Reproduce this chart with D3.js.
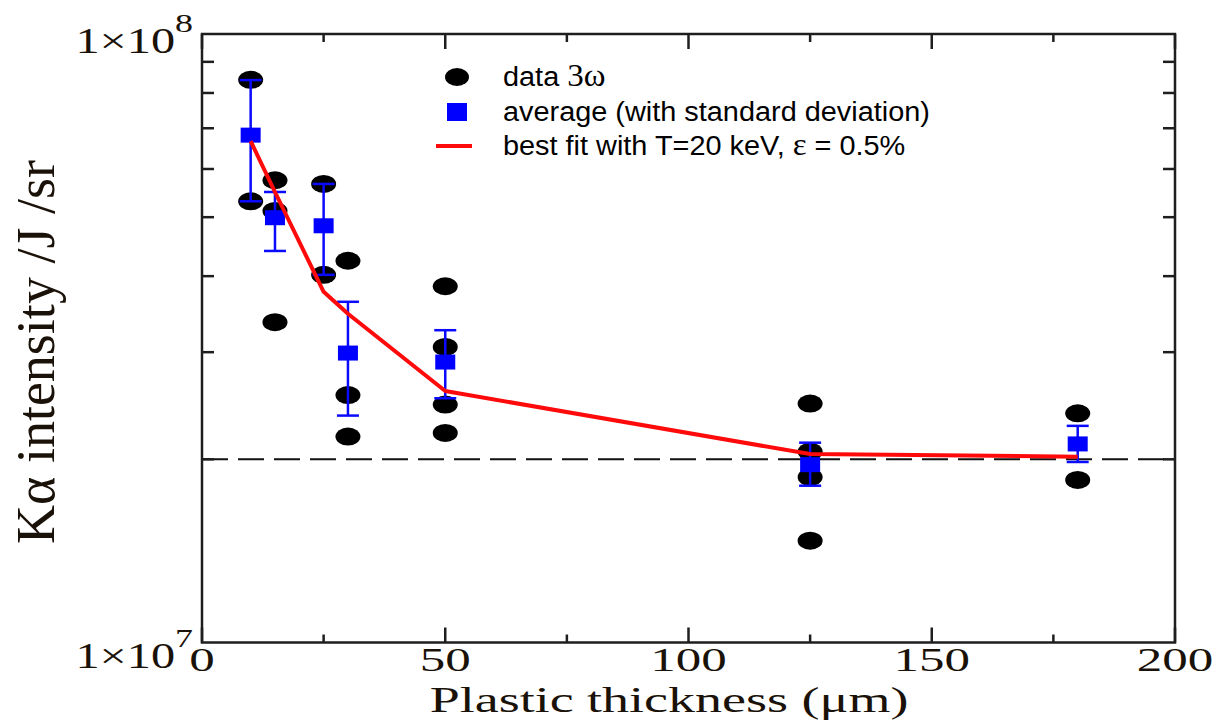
<!DOCTYPE html>
<html><head><meta charset="utf-8">
<script src="https://cdn.jsdelivr.net/npm/d3@7"></script>
<style>body{margin:0;background:#fff;} svg{display:block;}</style>
</head><body>
<svg id="chart" width="1217" height="720"></svg>
<script>
// ---- data ----
const dataX = [10,10,15,15,15,25,25,30,30,30,50,50,50,50,125,125,125,125,180,180];
const dataY = [8.41e7,5.31e7,5.75e7,5.12e7,3.36e7,5.67e7,4.02e7,4.24e7,2.55e7,2.18e7,3.85e7,3.06e7,2.46e7,2.21e7,2.47e7,2.06e7,1.87e7,1.47e7,2.38e7,1.85e7];
const thickness = [10,15,25,30,50,125,180];
const avgY  = [6.82e7,4.99e7,4.84e7,2.99e7,2.89e7,1.96e7,2.12e7];
const avgHi = [8.40e7,5.50e7,5.67e7,3.63e7,3.26e7,2.13e7,2.27e7];
const avgLo = [5.31e7,4.40e7,4.02e7,2.36e7,2.52e7,1.81e7,1.98e7];
const fitY  = [6.67e7,5.50e7,3.77e7,3.47e7,2.59e7,2.04e7,2.02e7];
const refLevel = 2e7;
const xMajorTicks = [0,50,100,150,200];
const xMinorTicks = [25,75,125,175];
const yMajorTicks = [1e7,1e8];
const yMinorTicks = [2e7,3e7,4e7,5e7,6e7,7e7,8e7,9e7];
const yTickLabels = [["1\u00d710","7"],["1\u00d710","8"]];
const legendLabels = ["data ", "average (with standard deviation)", "best fit with T=20 keV, "];

// ---- layout ----
const L = 202, R = 1175, T = 34, B = 642.5;
const svg = d3.select("#chart");
const x = d3.scaleLinear().domain([0,200]).range([L,R]);
const y = d3.scaleLog().domain([1e7,1e8]).range([B,T]);
const axisColor = "#1e1e1e";
const serif = "'Liberation Serif','DejaVu Serif',serif";

const defs = svg.append("defs");
defs.append("filter").attr("id","soft").attr("x","-20%").attr("y","-20%").attr("width","140%").attr("height","140%")
  .append("feGaussianBlur").attr("stdDeviation",0.7);

// dashed reference line
svg.append("line").attr("x1",L).attr("x2",R).attr("y1",y(refLevel)).attr("y2",y(refLevel))
  .attr("stroke","#111").attr("stroke-width",2).attr("stroke-dasharray","26,10");

// data dots
svg.append("g").attr("filter","url(#soft)").selectAll("ellipse").data(dataX.map((d,i)=>[d,dataY[i]])).join("ellipse")
  .attr("cx",d=>x(d[0])).attr("cy",d=>y(d[1])).attr("rx",12.5).attr("ry",9).attr("fill","#000");

// error bars
const eb = svg.append("g").attr("stroke","#0a0aff").attr("stroke-width",2.5);
thickness.forEach((t,i)=>{
  eb.append("line").attr("x1",x(t)).attr("x2",x(t)).attr("y1",y(avgHi[i])).attr("y2",y(avgLo[i]));
  [avgHi[i],avgLo[i]].forEach(v=>eb.append("line").attr("x1",x(t)-11).attr("x2",x(t)+11).attr("y1",y(v)).attr("y2",y(v)));
});

// squares
svg.append("g").selectAll("rect").data(thickness.map((t,i)=>[t,avgY[i]])).join("rect")
  .attr("x",d=>x(d[0])-10).attr("y",d=>y(d[1])-7.5).attr("width",20).attr("height",15).attr("fill","#0000ff");

// fit line
svg.append("path").datum(thickness.map((t,i)=>[t,fitY[i]]))
  .attr("d",d3.line().x(d=>x(d[0])).y(d=>y(d[1])))
  .attr("fill","none").attr("stroke","#ff0a0a").attr("stroke-width",4).attr("stroke-linejoin","round");

// frame
svg.append("rect").attr("x",L).attr("y",T).attr("width",R-L).attr("height",B-T)
  .attr("fill","none").attr("stroke",axisColor).attr("stroke-width",2.5);

// ticks
const tk = svg.append("g").attr("stroke",axisColor).attr("stroke-width",2.5);
xMajorTicks.forEach(v=>{
  tk.append("line").attr("x1",x(v)).attr("x2",x(v)).attr("y1",B).attr("y2",B-15);
  tk.append("line").attr("x1",x(v)).attr("x2",x(v)).attr("y1",T).attr("y2",T+15);
});
xMinorTicks.forEach(v=>{
  tk.append("line").attr("x1",x(v)).attr("x2",x(v)).attr("y1",B).attr("y2",B-8);
  tk.append("line").attr("x1",x(v)).attr("x2",x(v)).attr("y1",T).attr("y2",T+8);
});
yMinorTicks.forEach(v=>{
  tk.append("line").attr("x1",L).attr("x2",L+12).attr("y1",y(v)).attr("y2",y(v));
  tk.append("line").attr("x1",R).attr("x2",R-12).attr("y1",y(v)).attr("y2",y(v));
});

// x tick labels
const textCol = "#1a1208";
xMajorTicks.forEach(v=>{
  svg.append("g").attr("transform",`translate(${x(v)},671) scale(1.5,1)`)
    .append("text").attr("text-anchor","middle").attr("font-family",serif).attr("font-size",34)
    .attr("fill",textCol).text(v);
});

// y tick labels
yMajorTicks.forEach((v,i)=>{
  const t = svg.append("g").attr("transform",`translate(193,${y(v)+(i===0?25:19)}) scale(1.38,1)`)
    .append("text").attr("text-anchor","end").attr("font-family",serif).attr("font-size",35).attr("fill",textCol);
  t.append("tspan").text(yTickLabels[i][0]);
  t.append("tspan").attr("dy",-21).attr("font-size",26).text(yTickLabels[i][1]);
});

// axis titles
svg.append("g").attr("transform",`translate(669,712) scale(1.5,1)`)
  .append("text").attr("text-anchor","middle").attr("font-family",serif).attr("font-size",36)
  .attr("fill",textCol).text("Plastic thickness (\u03bcm)");
svg.append("g").attr("transform",`translate(54,352) rotate(-90)`)
  .append("text").attr("text-anchor","middle").attr("font-family",serif).attr("font-size",54)
  .attr("fill",textCol).text("K\u03b1 intensity /J /sr");

// legend
const lg = svg.append("g");
const rows = [77,112,146];
lg.append("ellipse").attr("cx",457).attr("cy",rows[0]).attr("rx",12).attr("ry",9).attr("fill","#000").attr("filter","url(#soft)");
lg.append("rect").attr("x",447).attr("y",rows[1]-9).attr("width",20).attr("height",18).attr("fill","#0000ff");
lg.append("line").attr("x1",436).attr("x2",472).attr("y1",rows[2]).attr("y2",rows[2]).attr("stroke","#ff0a0a").attr("stroke-width",4);
const sans = "'Liberation Sans','Open Sans',sans-serif";
const lt = rows.map((r,i)=>{
  const g = lg.append("g").attr("transform",`translate(503,${r+9})`);
  const t = g.append("text").attr("font-family",sans).attr("font-size",28).attr("fill","#000");
  t.append("tspan").text(legendLabels[i]);
  if(i===0) t.append("tspan").attr("font-family",serif).attr("font-size",32).text("3\u03c9");
  if(i===2){ t.append("tspan").attr("font-family",serif).attr("font-size",32).text("\u03b5"); t.append("tspan").text(" = 0.5%"); }
  return [g,t];
});
const w = lt[1][1].node().getComputedTextLength();
const sx = 427 / w;
lt.forEach(([g,t],i)=>g.attr("transform",`translate(503,${rows[i]+9}) scale(${sx},1)`));
</script>
</body></html>
